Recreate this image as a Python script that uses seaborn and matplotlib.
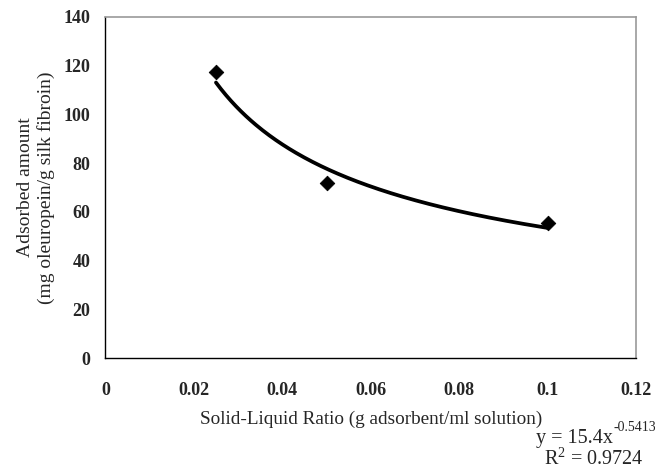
import numpy as np
import pandas as pd
import matplotlib.pyplot as plt
import seaborn as sns

# measured points
ratio = [0.025, 0.05, 0.1]
adsorbed = [117.5, 72.0, 55.5]

x_ticks = [0, 0.02, 0.04, 0.06, 0.08, 0.1, 0.12]
x_tick_labels = ['0', '0.02', '0.04', '0.06', '0.08', '0.1', '0.12']
y_ticks = [0, 20, 40, 60, 80, 100, 120, 140]

eq_base = 'y = 15.4x'
eq_power = '-0.5413'
r2_text = r'R$^{\mathrm{2}}$ = 0.9724'

df = pd.DataFrame({'ratio': ratio, 'adsorbed': adsorbed})

# power trendline fitted on log-log data (like Excel's power trendline)
b, a = np.polyfit(np.log(df['ratio']), np.log(df['adsorbed']), 1)
fit_x = np.linspace(df['ratio'].min(), df['ratio'].max(), 200)
fit = pd.DataFrame({'ratio': fit_x, 'adsorbed': np.exp(a) * fit_x ** b})

sns.set_style('white')
plt.rcParams['font.family'] = ['Liberation Serif', 'DejaVu Serif']
plt.rcParams['mathtext.fontset'] = 'custom'
plt.rcParams['mathtext.rm'] = 'Liberation Serif'
plt.rcParams['mathtext.it'] = 'Liberation Serif:italic'

fig = plt.figure(figsize=(6.55, 4.72), dpi=100)
ax = fig.add_axes([0.161, 0.2415, 0.81, 0.7225])

sns.lineplot(data=fit, x='ratio', y='adsorbed', ax=ax, color='black', linewidth=2.7)
sns.scatterplot(data=df, x='ratio', y='adsorbed', ax=ax, marker='D', color='black',
                s=55, edgecolor='black', zorder=3)

ax.set_xlim(0, 0.12)
ax.set_ylim(0, 140)
ax.set_xticks(x_ticks)
ax.set_xticklabels(x_tick_labels)
ax.set_yticks(y_ticks)
ax.tick_params(axis='both', direction='out', length=5, width=1, color='black',
               labelsize=13, pad=6)
ax.tick_params(axis='x', pad=12)
for lbl in ax.get_xticklabels() + ax.get_yticklabels():
    lbl.set_fontweight('bold')

for side in ['left', 'bottom']:
    ax.spines[side].set_color('black')
    ax.spines[side].set_linewidth(1)
for side in ['top', 'right']:
    ax.spines[side].set_color('#999999')
    ax.spines[side].set_linewidth(1.2)

ax.set_xlabel('Solid-Liquid Ratio (g adsorbent/ml solution)', fontsize=13.8, labelpad=9)
ax.set_ylabel('Adsorbed amount\n(mg oleuropein/g silk fibroin)', fontsize=14, labelpad=6)

# trendline equation below the plot, Excel style
eq = fig.text(536 / 655, 1 - 443 / 472, eq_base, ha='left', va='baseline', fontsize=14.5)
fig.canvas.draw()
bb = eq.get_window_extent()
fig.text(bb.x1 / fig.bbox.width, 1 - 431 / 472, eq_power, ha='left', va='baseline',
         fontsize=10)
fig.text(643 / 655, 1 - 465 / 472, r2_text, ha='right', va='baseline', fontsize=14.5)

plt.savefig('out.png', dpi=100)
plt.close()
